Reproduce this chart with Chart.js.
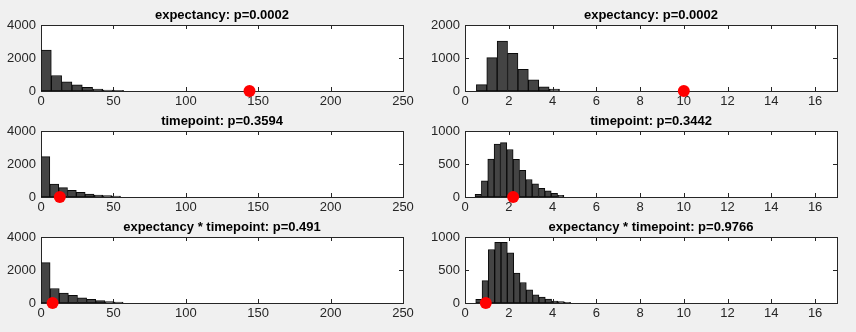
<!DOCTYPE html>
<html>
<head>
<meta charset="utf-8">
<script src="https://cdn.jsdelivr.net/npm/chart.js@4.4.1/dist/chart.umd.min.js"></script>
<style>
  html, body { margin: 0; padding: 0; background: #f0f0f0; }
  #fig { position: relative; width: 856px; height: 332px; overflow: hidden; }
  #fig canvas { position: absolute; }
</style>
</head>
<body>
<div id="fig"></div>
<script>
// === データ (ヒストグラムのビン中心と度数, 実測値の赤点) ===
const titles = [
  'expectancy: p=0.0002', 'expectancy: p=0.0002',
  'timepoint: p=0.3594', 'timepoint: p=0.3442',
  'expectancy * timepoint: p=0.491', 'expectancy * timepoint: p=0.9766'
];

// 左列 (0-250)
const expLeftBins = [3.56, 10.69, 17.81, 24.94, 32.06, 39.19, 46.31, 53.44];
const expLeftCounts = [2480, 940, 560, 370, 225, 120, 60, 45];
const tpLeftBins = [3.05, 9.15, 15.25, 21.35, 27.45, 33.55, 39.65, 45.75, 51.85];
const tpLeftCounts = [2450, 790, 565, 400, 280, 180, 120, 80, 50];
const intLeftBins = [3.15, 9.45, 15.75, 22.05, 28.35, 34.65, 40.95, 47.25, 53.55];
const intLeftCounts = [2450, 880, 600, 460, 310, 220, 150, 90, 50];

// 右列 (0-17)
const expRightBins = [0.757, 1.232, 1.707, 2.182, 2.657, 3.132, 3.607, 4.082];
const expRightCounts = [195, 1010, 1510, 1140, 655, 335, 130, 55];
const tpRightBins = [0.605, 0.895, 1.185, 1.475, 1.765, 2.055, 2.345, 2.635, 2.925, 3.215, 3.505, 3.795, 4.085, 4.375];
const tpRightCounts = [40, 245, 575, 800, 825, 720, 570, 405, 265, 200, 130, 95, 55, 25];
const intRightBins = [0.634, 0.923, 1.212, 1.501, 1.790, 2.079, 2.368, 2.657, 2.946, 3.235, 3.524, 3.813, 4.102, 4.391, 4.680];
const intRightCounts = [55, 340, 810, 920, 920, 760, 455, 310, 200, 125, 90, 60, 30, 20, 12];

// 赤点 (観測値)
const observedX = [144, 10, 13, 2.2, 8, 0.95];

// 軸の範囲
const xMaxLeft = 250, xStepLeft = 50;
const xMaxRight = 17, xStepRight = 2;
const yMaxes = [4000, 2000, 4000, 1000, 4000, 1000];
const ySteps = [2000, 1000, 2000, 500, 2000, 500];

const binSets = [expLeftBins, expRightBins, tpLeftBins, tpRightBins, intLeftBins, intRightBins];
const countSets = [expLeftCounts, expRightCounts, tpLeftCounts, tpRightCounts, intLeftCounts, intRightCounts];

// === レイアウト ===
const FONT = "'Liberation Sans', Arial, Helvetica, sans-serif";
const TICK_COLOR = '#262626';
const rowCanvasTop = [0, 106, 211];
const rowChartTop = [25, 131, 237];
const rowChartBottom = [91, 197, 303];
const TITLE_BLOCK = 17.6;
const X_AXIS_H = 22;

// MATLAB風の箱と内向きの目盛り
const boxPlugin = {
  id: 'matlabBox',
  beforeDraw(chart) {
    const { ctx, chartArea: a } = chart;
    ctx.save();
    ctx.fillStyle = '#ffffff';
    ctx.fillRect(a.left, a.top, a.right - a.left, a.bottom - a.top);
    ctx.restore();
  },
  beforeDatasetsDraw(chart) {
    const { ctx, chartArea: a, scales } = chart;
    const len = 4;
    ctx.save();
    ctx.strokeStyle = TICK_COLOR;
    ctx.lineWidth = 1;
    ctx.beginPath();
    scales.x.ticks.forEach(t => {
      const px = Math.round(scales.x.getPixelForValue(t.value)) + 0.5;
      ctx.moveTo(px, a.bottom); ctx.lineTo(px, a.bottom - len);
      ctx.moveTo(px, a.top); ctx.lineTo(px, a.top + len);
    });
    scales.y.ticks.forEach(t => {
      const py = Math.round(scales.y.getPixelForValue(t.value)) + 0.5;
      ctx.moveTo(a.left, py); ctx.lineTo(a.left + len, py);
      ctx.moveTo(a.right, py); ctx.lineTo(a.right - len, py);
    });
    ctx.stroke();
    ctx.strokeRect(Math.round(a.left) + 0.5, Math.round(a.top) + 0.5,
      Math.round(a.right - a.left), Math.round(a.bottom - a.top));
    ctx.restore();
  }
};

function makePanel(i) {
  const row = Math.floor(i / 2);
  const col = i % 2;
  const canvasLeft = col === 0 ? 0 : 428;
  const canvasTop = rowCanvasTop[row];
  const canvasW = 428;
  const canvasH = rowChartBottom[row] + X_AXIS_H - canvasTop;
  const yAxisW = col === 0 ? 41 : 37;
  const padRight = col === 0 ? 25 : 19;
  const padTop = rowChartTop[row] - canvasTop - TITLE_BLOCK;

  const canvas = document.createElement('canvas');
  canvas.style.left = canvasLeft + 'px';
  canvas.style.top = canvasTop + 'px';
  canvas.style.width = canvasW + 'px';
  canvas.style.height = canvasH + 'px';
  canvas.width = canvasW;
  canvas.height = canvasH;
  document.getElementById('fig').appendChild(canvas);

  const bins = binSets[i], counts = countSets[i];
  const barData = bins.map((x, k) => ({ x: x, y: counts[k] }));

  new Chart(canvas.getContext('2d'), {
    type: 'bar',
    data: {
      datasets: [
        {
          type: 'scatter', data: [{ x: observedX[i], y: 0 }], order: 0, clip: false,
          pointRadius: 6, pointBackgroundColor: '#ff0000', pointBorderWidth: 0, showLine: false
        },
        {
          type: 'bar', data: barData, order: 1,
          backgroundColor: '#444444', borderColor: '#0a0a0a', borderWidth: 1,
          barPercentage: 1, categoryPercentage: 1, borderSkipped: false
        }
      ]
    },
    options: {
      responsive: false, animation: false,
      layout: { padding: { left: 0, right: padRight, top: padTop, bottom: 0 } },
      plugins: {
        legend: { display: false }, tooltip: { enabled: false },
        title: {
          display: true, text: titles[i], fullSize: false, color: '#000000',
          font: { family: FONT, size: 13, weight: 'bold' }, padding: { top: 0, bottom: 2 }
        }
      },
      scales: {
        x: {
          type: 'linear', offset: false, min: 0, max: col === 0 ? xMaxLeft : xMaxRight,
          grid: { display: false, offset: false, drawTicks: false }, border: { display: false },
          ticks: {
            stepSize: col === 0 ? xStepLeft : xStepRight, includeBounds: false, autoSkip: false,
            maxRotation: 0, padding: 3, color: TICK_COLOR, font: { family: FONT, size: 13 },
            callback: (v) => String(v)
          },
          afterFit: (s) => { s.height = X_AXIS_H; }
        },
        y: {
          min: 0, max: yMaxes[i],
          grid: { display: false, drawTicks: false }, border: { display: false },
          ticks: {
            stepSize: ySteps[i], padding: 5, color: TICK_COLOR, font: { family: FONT, size: 13 },
            callback: (v) => String(v)
          },
          afterFit: (s) => { s.width = yAxisW; }
        }
      }
    },
    plugins: [boxPlugin]
  });
}

for (let i = 0; i < 6; i++) makePanel(i);
</script>
</body>
</html>
